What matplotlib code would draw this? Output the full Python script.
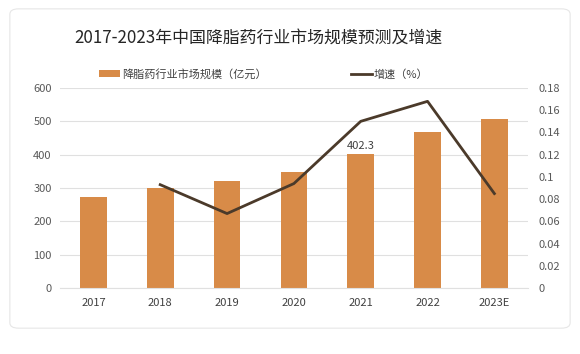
import matplotlib
matplotlib.use("Agg")
import matplotlib.pyplot as plt
from matplotlib.patches import FancyBboxPatch, Patch
from matplotlib.lines import Line2D
from matplotlib.ticker import FuncFormatter

plt.rcParams['font.family'] = ['Noto Sans CJK SC', 'DejaVu Sans']

years = ["2017", "2018", "2019", "2020", "2021", "2022", "2023E"]
market = [272, 299, 321, 348, 402.3, 469, 507]
growth_years = ["2018", "2019", "2020", "2021", "2022", "2023E"]
growth = [0.093, 0.067, 0.094, 0.150, 0.168, 0.085]
left_ticks = [0, 100, 200, 300, 400, 500, 600]
right_ticks = [0, 0.02, 0.04, 0.06, 0.08, 0.10, 0.12, 0.14, 0.16, 0.18]

bar_color = "#D88B48"
line_color = "#4B3A2A"
tick_color = "#595959"

fig = plt.figure(figsize=(5.8, 3.54), dpi=100)
fig.patch.set_facecolor("white")
card = FancyBboxPatch((0.017, 0.073), 0.966, 0.902, boxstyle="round,pad=0,rounding_size=0.015",
                      transform=fig.transFigure, facecolor="white", edgecolor="#E6E6E6",
                      linewidth=0.8, zorder=-10)
fig.patches.append(card)

ax = fig.add_axes([0.1034, 0.1864, 0.8066, 0.565])
ax.set_facecolor("none")
x = list(range(len(years)))
ax.bar(x, market, width=0.4, color=bar_color, zorder=2)
ax.set_xlim(-0.5, len(years) - 0.5)
ax.set_ylim(0, 600)
ax.set_yticks(left_ticks)
ax.set_xticks(x)
ax.set_xticklabels(years)
ax.grid(axis='y', color="#E0E0E0", linewidth=0.8, zorder=0)
ax.set_axisbelow(True)
for s in ax.spines.values():
    s.set_visible(False)
ax.spines['bottom'].set_visible(True)
ax.spines['bottom'].set_color("#E0E0E0")
ax.tick_params(axis='both', length=0, labelsize=8, colors=tick_color, pad=6)
ax.tick_params(axis='x', labelcolor="#404040", pad=7)

idx21 = years.index("2021")
ax.text(idx21, market[idx21] + 8, "402.3", ha='center', va='bottom', fontsize=8, color="#404040")

ax2 = ax.twinx()
gx = [years.index(y) for y in growth_years]
ax2.plot(gx, growth, color=line_color, linewidth=2, zorder=3)
ax2.set_ylim(0, 0.18)
ax2.set_yticks(right_ticks)
ax2.yaxis.set_major_formatter(FuncFormatter(lambda v, p: "%g" % round(v, 2)))
for s in ax2.spines.values():
    s.set_visible(False)
ax2.tick_params(axis='y', length=0, labelsize=8, colors=tick_color, pad=8)

fig.text(0.445, 0.895, "2017-2023年中国降脂药行业市场规模预测及增速", ha='center', va='center',
         fontsize=12.2, color="#262626")

handles = [Patch(facecolor=bar_color, edgecolor='none'),
           Line2D([0], [0], color=line_color, linewidth=2)]
labels = ["降脂药行业市场规模（亿元）", "增速（%）"]
fig.legend(handles, labels, loc='center', bbox_to_anchor=(0.455, 0.79), ncol=2, frameon=False,
           fontsize=8, handlelength=1.9, handleheight=0.6, columnspacing=7.5, handletextpad=0.2,
           labelcolor="#404040")

fig.savefig("out.png", dpi=100)
